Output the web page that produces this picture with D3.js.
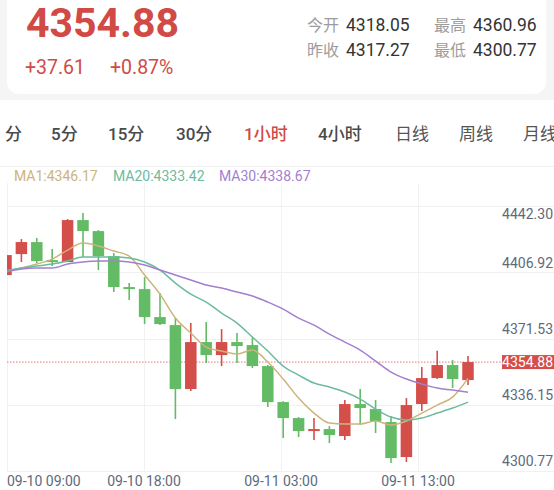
<!DOCTYPE html>
<html><head><meta charset="utf-8">
<script src="https://cdn.jsdelivr.net/npm/d3@7"></script>
<style>
html,body{margin:0;padding:0;background:#f5f5f5;}
svg{display:block;font-family:Roboto,"Noto Sans CJK SC",sans-serif;}
</style></head><body>
<svg id="c" width="554" height="490"></svg>
<script>
// ---------- data ----------
const opens  = [4401.52,4412.77,4419.21,4409.56,4408.49,4431.00,4425.10,4411.70,4395.08,4394.01,4379.00,4374.71,4340.41,4365.60,4358.63,4365.60,4363.99,4352.74,4333.44,4324.86,4317.89,4318.96,4315.21,4332.37,4329.69,4322.72,4303.96,4332.37,4346.30,4353.27,4345.23];
const closes = [4412.24,4419.21,4409.02,4408.49,4431.00,4425.10,4411.70,4395.08,4394.01,4379.00,4375.25,4340.41,4365.60,4358.63,4365.60,4363.46,4352.74,4333.44,4324.86,4317.89,4318.96,4315.75,4332.37,4330.22,4323.25,4303.42,4331.83,4346.30,4353.27,4345.77,4354.88];
const highs  = [4412.77,4420.81,4421.35,4415.45,4431.54,4434.75,4425.63,4413.31,4397.23,4400.44,4391.87,4378.47,4375.79,4376.32,4372.57,4370.43,4367.75,4353.30,4333.90,4325.40,4324.86,4320.57,4334.51,4340.41,4334.51,4325.93,4335.58,4352.20,4360.96,4355.95,4358.10];
const lows   = [4400.98,4408.49,4407.95,4406.34,4408.49,4411.17,4404.20,4392.40,4388.12,4375.25,4374.70,4324.33,4339.33,4354.34,4352.74,4354.34,4351.66,4330.76,4314.14,4314.68,4313.07,4311.46,4313.07,4321.11,4316.82,4300.77,4301.27,4328.61,4345.80,4340.94,4342.55];
const ma1  = [4403.66,4405.27,4407.41,4410.09,4414.92,4418.67,4417.06,4414.38,4411.70,4401.52,4391.33,4378.47,4370.43,4362.92,4360.78,4359.17,4361.31,4354.88,4345.77,4335.58,4327.54,4322.18,4321.64,4321.64,4323.25,4321.11,4323.25,4327.54,4331.83,4336.12,4346.17];
const ma20 = [4403.66,4405.27,4406.34,4407.41,4409.02,4411.17,4411.17,4411.17,4410.63,4408.49,4404.20,4397.23,4391.33,4387.04,4381.15,4375.79,4368.28,4360.78,4352.74,4347.91,4343.62,4341.48,4338.80,4335.05,4329.69,4325.40,4323.79,4324.86,4327.54,4330.22,4333.42];
const ma30 = [4403.12,4404.73,4405.27,4405.27,4407.41,4408.49,4409.02,4409.02,4408.49,4406.88,4404.20,4401.52,4398.84,4396.16,4394.55,4392.40,4390.26,4387.04,4383.29,4378.47,4374.71,4369.89,4365.60,4361.31,4355.42,4349.52,4345.77,4343.09,4340.94,4339.87,4338.67];
const yTicks  = [4442.30,4406.92,4371.53,4336.15,4300.77];
const xLabels = ["09-10 09:00","09-10 18:00","09-11 03:00","09-11 13:00"];
const tabs    = ["分","5分","15分","30分","1小时","4小时","日线","周线","月线"];
const legend  = [["MA1",4346.17],["MA20",4333.42],["MA30",4338.67]];
const lastPrice = 4354.88, change = "+37.61", changePct = "+0.87%";
const stats = [["今开","4318.05"],["最高","4360.96"],["昨收","4317.27"],["最低","4300.77"]];

// ---------- styles / layout ----------
const RED="#d44f4a", GREEN="#63bc65";
const maColors=["#cdb47c","#6dbb9e","#a37fd0"];
const svg=d3.select("#c");

// backgrounds
svg.append("rect").attr("x",0).attr("y",0).attr("width",554).attr("height",490).attr("fill","#f5f5f5");
svg.append("rect").attr("x",7).attr("y",-14).attr("width",539).attr("height",108).attr("rx",12).attr("fill","#fff");
svg.append("rect").attr("x",0).attr("y",100).attr("width",554).attr("height",390).attr("fill","#fff");

// header
svg.append("text").attr("x",26).attr("y",37).attr("font-size",41).attr("font-weight",700).attr("fill","#d14a46").text(lastPrice.toFixed(2));
svg.append("text").attr("x",25).attr("y",74).attr("font-size",19.5).attr("fill","#d14a46").text(change);
svg.append("text").attr("x",110).attr("y",74).attr("font-size",19.5).attr("fill","#d14a46").text(changePct);
const statX=[307,434], statY=[31,56];
stats.forEach((s,i)=>{
  const cx=statX[i%2], cy=statY[Math.floor(i/2)];
  svg.append("text").attr("x",cx).attr("y",cy).attr("font-size",16).attr("fill","#9c9c9c").text(s[0]);
  svg.append("text").attr("x",cx+39).attr("y",cy).attr("font-size",17.5).attr("fill","#333").text(s[1]);
});

// tabs
const tabX=[5,51,108,176,244,318,395,459,523];
tabs.forEach((t,i)=>{
  svg.append("text").attr("x",tabX[i]).attr("y",140).attr("font-size",17)
    .attr("font-weight", i<6 ? 500 : 400)
    .attr("fill", i===4 ? "#d14a46" : (i<6 ? "#4a4a4a" : "#555")).text(t);
});
svg.append("line").attr("x1",0).attr("x2",554).attr("y1",166.5).attr("y2",166.5).attr("stroke","#efefef");

// legend
const legX=[14,113,219];
legend.forEach((l,i)=>{
  svg.append("text").attr("x",legX[i]).attr("y",181).attr("font-size",14).attr("fill",maColors[i]).text(l[0]+":"+l[1].toFixed(2));
});

// scales
const x = d3.scaleLinear().domain([0,opens.length-1]).range([6,468]);
const y = d3.scaleLinear().domain([4300.77,4442.30]).range([463,199]);
const gx = d3.scaleLinear().domain([0,4]).range([7,555]);
const gy = d3.scaleLinear().domain([0,4]).range([206,471]);

// grid
const grid=svg.append("g").attr("stroke","#f1f1f1").attr("stroke-width",1);
d3.range(5).forEach(k=>grid.append("line").attr("x1",7).attr("x2",554).attr("y1",Math.round(gy(k))+0.5).attr("y2",Math.round(gy(k))+0.5));
d3.range(4).forEach(k=>grid.append("line").attr("x1",Math.round(gx(k))+0.5).attr("x2",Math.round(gx(k))+0.5).attr("y1",183).attr("y2",471));

// clip
svg.append("clipPath").attr("id","clip").append("rect").attr("x",7).attr("y",183).attr("width",496).attr("height",290);
const plot=svg.append("g").attr("clip-path","url(#clip)");

// last price dotted line
plot.append("line").attr("x1",7).attr("x2",502).attr("y1",y(lastPrice)).attr("y2",y(lastPrice))
  .attr("stroke","#e07a76").attr("stroke-width",1).attr("stroke-dasharray","1.5,1.5");

// candles
const bw=11.5;
const data=opens.map((o,i)=>({i,o,c:closes[i],h:highs[i],l:lows[i]}));
const cg=plot.selectAll("g.c").data(data).join("g").attr("class","c");
cg.append("line").attr("x1",d=>x(d.i)).attr("x2",d=>x(d.i)).attr("y1",d=>y(d.h)).attr("y2",d=>y(d.l))
  .attr("stroke",d=>d.c>=d.o?RED:GREEN).attr("stroke-width",1.6);
cg.append("rect").attr("x",d=>x(d.i)-bw/2).attr("width",bw)
  .attr("y",d=>y(Math.max(d.o,d.c))).attr("height",d=>Math.max(1.5,Math.abs(y(d.o)-y(d.c))))
  .attr("fill",d=>d.c>=d.o?RED:GREEN);

// MA lines
const line=d3.line().x((d,i)=>x(i)).y(d=>y(d)).curve(d3.curveMonotoneX);
[ma1,ma20,ma30].forEach((s,k)=>{
  plot.append("path").attr("d",line(s)).attr("fill","none").attr("stroke",maColors[k]).attr("stroke-width",1.5);
});

// y axis labels
yTicks.forEach(v=>{
  svg.append("text").attr("x",553).attr("y",Math.max(y(v)-2,214)).attr("text-anchor","end")
    .attr("dominant-baseline","central").attr("font-size",14).attr("fill","#5e6a7c").text(v.toFixed(2));
});
// last price tag
const ty=y(lastPrice);
svg.append("rect").attr("x",502).attr("y",ty-7).attr("width",52).attr("height",14).attr("fill","#d44f4a");
svg.append("text").attr("x",553).attr("y",ty).attr("text-anchor","end").attr("dominant-baseline","central")
  .attr("font-size",14).attr("fill","#fff").text(lastPrice.toFixed(2));

// x labels
xLabels.forEach((t,k)=>{
  svg.append("text").attr("x",gx(k)).attr("y",486)
    .attr("text-anchor",k===0?"start":"middle").attr("font-size",14).attr("fill","#5e6a7c").text(t);
});
</script>
</body></html>
